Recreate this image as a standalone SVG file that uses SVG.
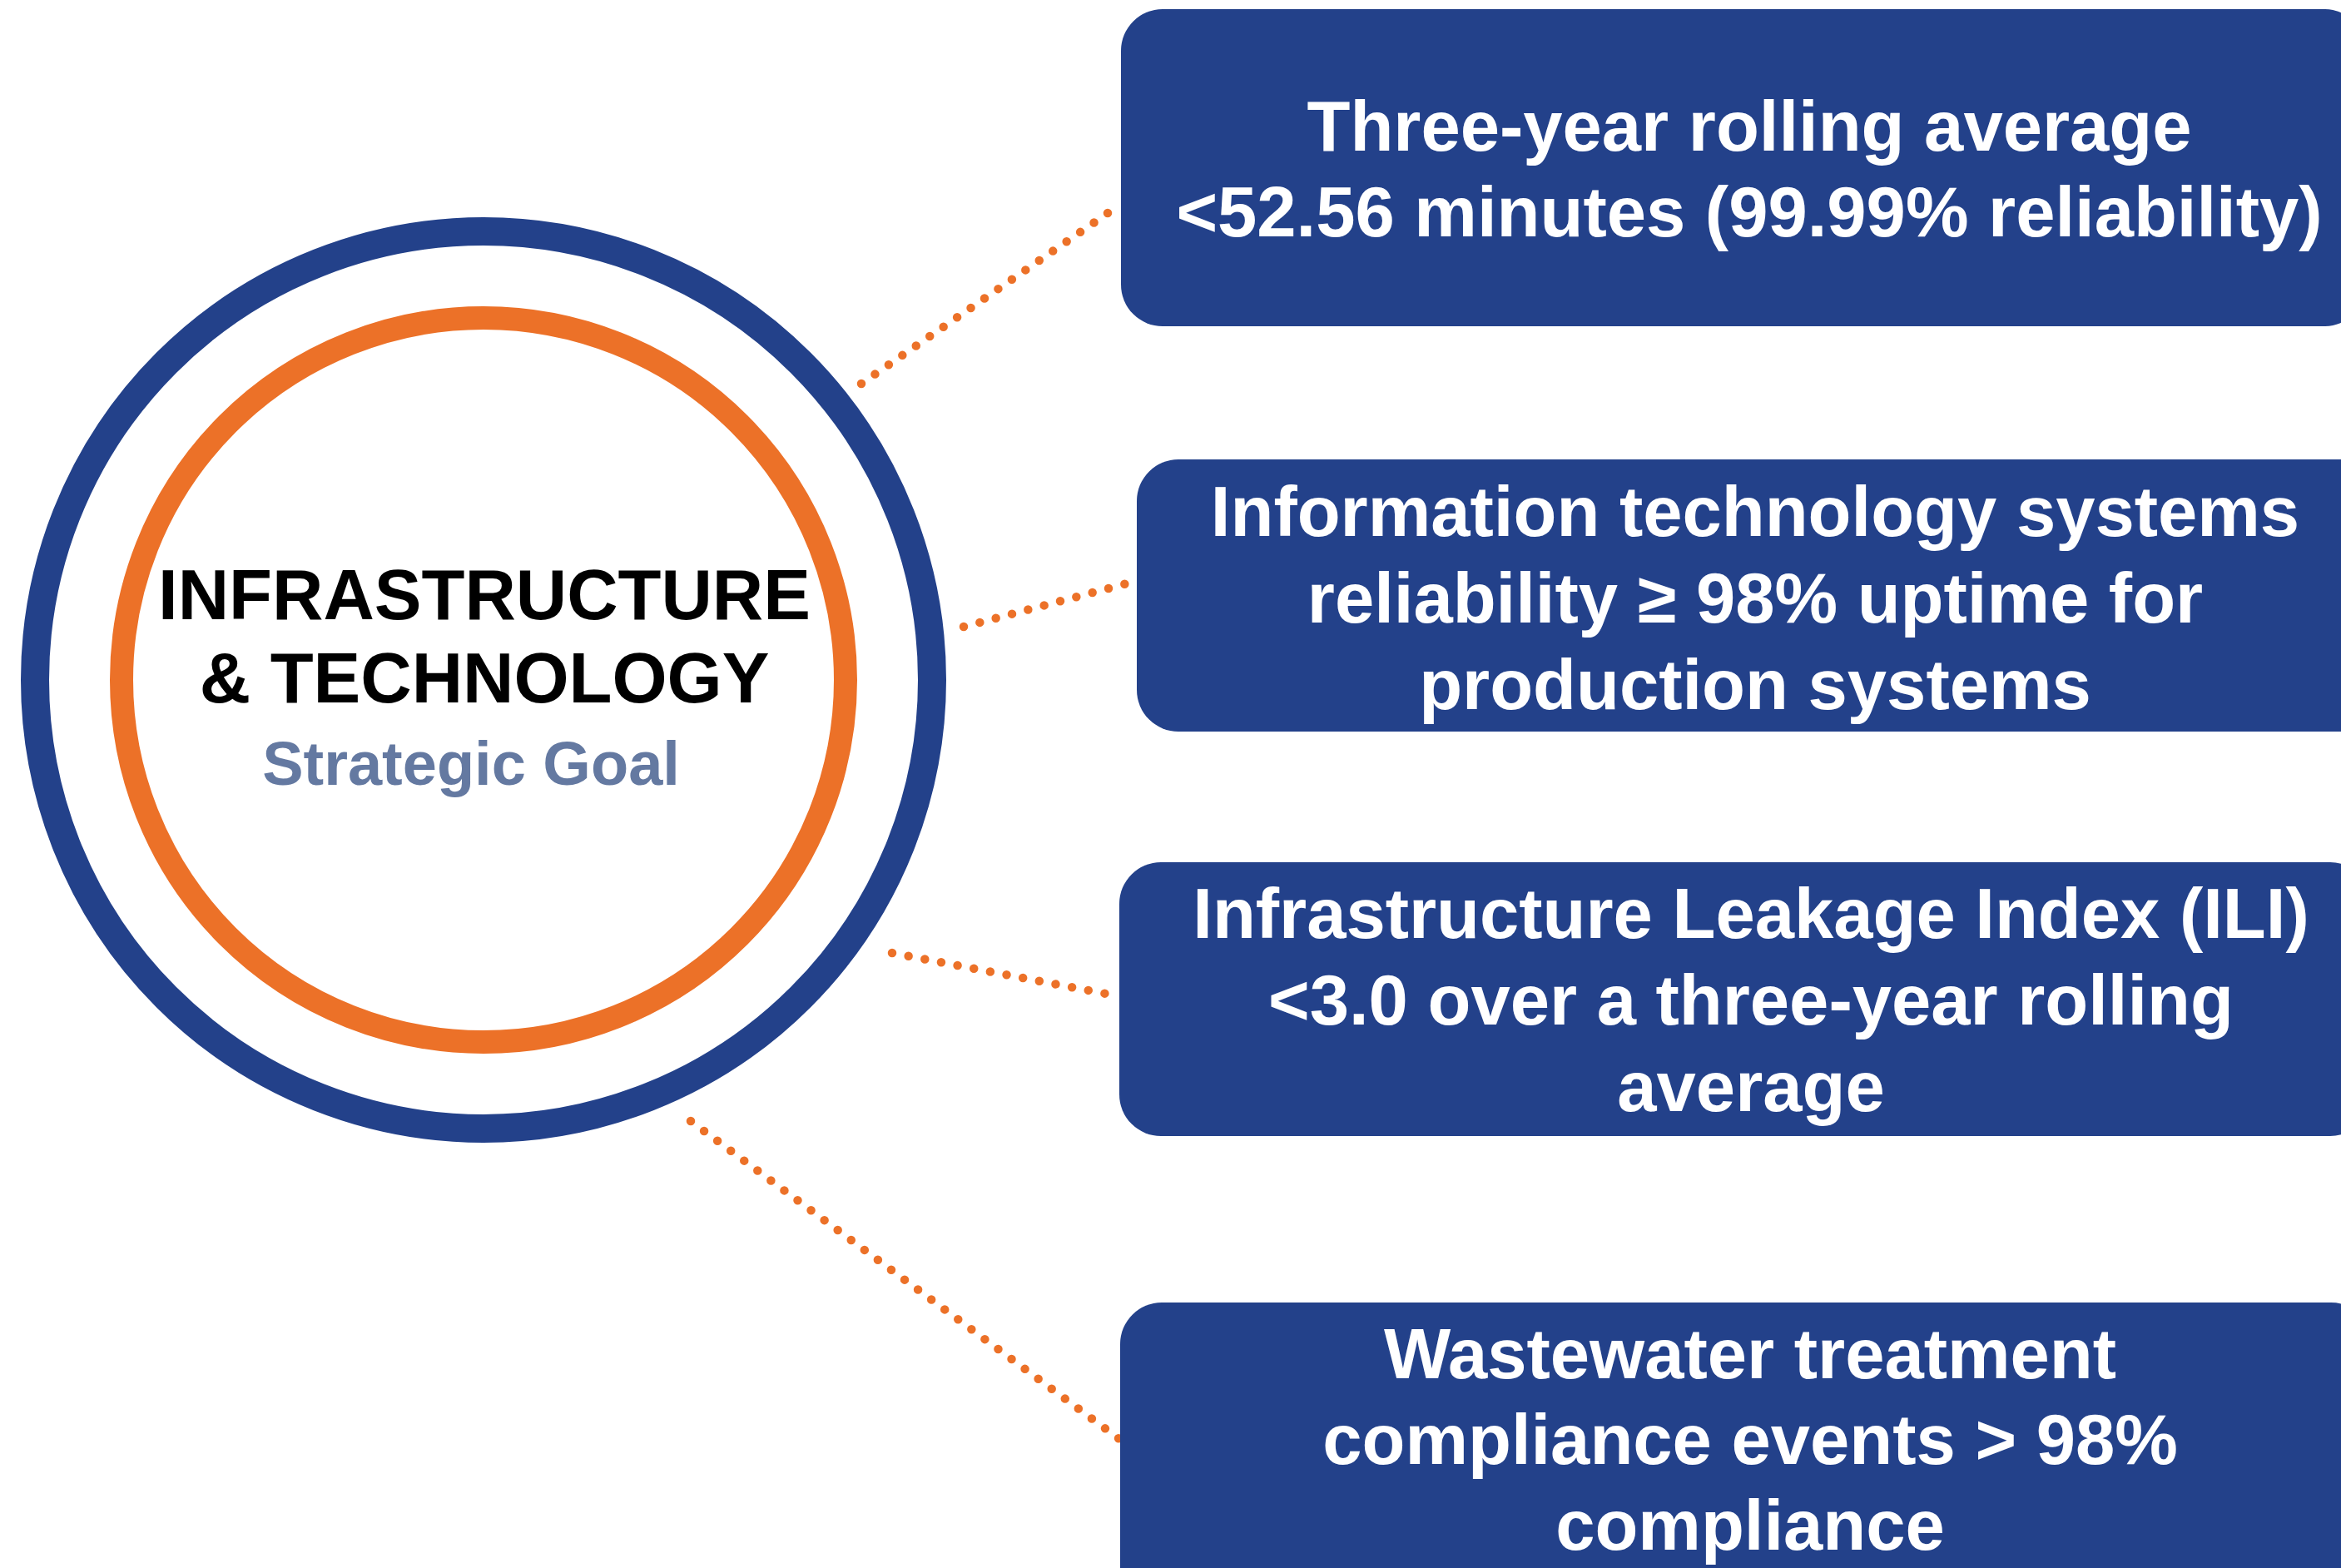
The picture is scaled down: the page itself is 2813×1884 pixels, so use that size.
<svg xmlns="http://www.w3.org/2000/svg" width="2813" height="1884" viewBox="0 0 2813 1884">
  <style>
    .box { fill: #23418A; }
    .box-text { font-family: "Liberation Sans", Arial, sans-serif; font-weight: bold; font-size: 85px; fill: #FFFFFF; text-anchor: middle; }
    .goal-title { font-family: "Liberation Sans", Arial, sans-serif; font-weight: bold; font-size: 85px; fill: #000000; text-anchor: middle; }
    .goal-sub { font-family: "Liberation Sans", Arial, sans-serif; font-weight: bold; font-size: 74px; fill: #6479A1; text-anchor: middle; }
    .link { stroke: #EC7128; stroke-width: 10.5; stroke-linecap: round; stroke-dasharray: 0 20; fill: none; }
  </style>
  <rect width="2813" height="1884" fill="#FFFFFF"/>

  <!-- dotted connectors from the goal ring to each target -->
  <g id="connectors">
    <line class="link" x1="1035" y1="461" x2="1347" y2="245"/>
    <line class="link" x1="1158" y1="753" x2="1362" y2="699"/>
    <line class="link" x1="1072" y1="1145" x2="1345" y2="1197"/>
    <line class="link" x1="830" y1="1347" x2="1345" y2="1729"/>
  </g>

  <!-- central strategic goal -->
  <g id="goal">
    <circle cx="581" cy="817" r="539" fill="none" stroke="#23418A" stroke-width="34"/>
    <circle cx="581" cy="817" r="435" fill="none" stroke="#EC7128" stroke-width="28"/>
    <text class="goal-title" x="582" y="744">INFRASTRUCTURE</text>
    <text class="goal-title" x="582" y="844">&amp; TECHNOLOGY</text>
    <text class="goal-sub" x="566" y="943">Strategic Goal</text>
  </g>

  <!-- target boxes -->
  <g id="target-reliability">
    <rect class="box" x="1347" y="11" width="1496" height="381" rx="50" ry="50"/>
    <text class="box-text" x="2102" y="181">Three-year rolling average</text>
    <text class="box-text" x="2102" y="284">&lt;52.56 minutes (99.99% reliability)</text>
  </g>

  <g id="target-it-uptime">
    <rect class="box" x="1366" y="552" width="1520" height="327" rx="50" ry="50"/>
    <text class="box-text" x="2109" y="644">Information technology systems</text>
    <text class="box-text" x="2109" y="748">reliability ≥ 98% uptime for</text>
    <text class="box-text" x="2109" y="852">production systems</text>
  </g>

  <g id="target-leakage">
    <rect class="box" x="1345" y="1036" width="1505" height="329" rx="50" ry="50"/>
    <text class="box-text" x="2104" y="1127">Infrastructure Leakage Index (ILI)</text>
    <text class="box-text" x="2104" y="1231">&lt;3.0 over a three-year rolling</text>
    <text class="box-text" x="2104" y="1335">average</text>
  </g>

  <g id="target-wastewater">
    <rect class="box" x="1346" y="1565" width="1505" height="400" rx="50" ry="50"/>
    <text class="box-text" x="2103" y="1656">Wastewater treatment</text>
    <text class="box-text" x="2103" y="1759">compliance events &gt; 98%</text>
    <text class="box-text" x="2103" y="1862">compliance</text>
  </g>
</svg>
